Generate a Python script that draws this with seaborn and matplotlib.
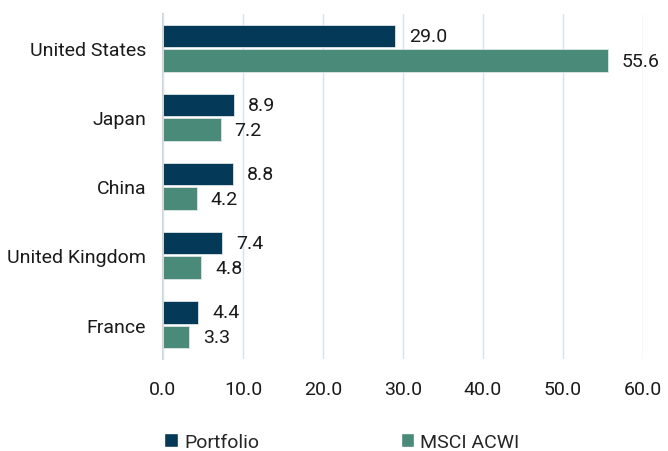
import matplotlib
matplotlib.use("Agg")
import matplotlib.pyplot as plt
import seaborn as sns
import pandas as pd
from matplotlib.patches import Patch

countries = ["United States", "Japan", "China", "United Kingdom", "France"]
portfolio = [29.0, 8.9, 8.8, 7.4, 4.4]
msci_acwi = [55.6, 7.2, 4.2, 4.8, 3.3]
series_names = ["Portfolio", "MSCI ACWI"]
xticks = [0, 10, 20, 30, 40, 50, 60]

colors = ["#053958", "#4a8a78"]

df = pd.DataFrame({
    "Country": countries * 2,
    "Value": portfolio + msci_acwi,
    "Series": [series_names[0]] * len(countries) + [series_names[1]] * len(countries),
})

sns.set_style("white")
plt.rcParams["font.family"] = ["Roboto", "DejaVu Sans"]

fig = plt.figure(figsize=(6.68, 4.52), dpi=100)
ax = fig.add_axes([0.244, 0.2035, 0.7186, 0.7635])

sns.barplot(data=df, y="Country", x="Value", hue="Series", orient="h",
            palette=colors, width=0.72, gap=0.08, ax=ax, legend=False,
            edgecolor="#dfe6e6", linewidth=0.6, saturation=1)

for c in ax.containers:
    ax.bar_label(c, labels=[f"{v:.1f}" for v in c.datavalues], padding=10,
                 fontsize=14, color="#1a1a1a")

ax.set_xlim(0, 60)
ax.set_ylim(4.5, -0.5)
ax.set_xticks(xticks)
ax.set_xticklabels([f"{t:.1f}" for t in xticks], fontsize=14, color="#1a1a1a")
ax.tick_params(axis="y", labelsize=14, colors="#1a1a1a", length=0, pad=12)
ax.tick_params(axis="x", length=0, pad=15)
ax.set_xlabel("")
ax.set_ylabel("")
ax.xaxis.grid(True, color="#d0e5ef", linewidth=1)
ax.set_axisbelow(True)
for s in ["top", "right", "bottom"]:
    ax.spines[s].set_visible(False)
ax.spines["left"].set_color("#d4d4d4")
ax.spines["left"].set_linewidth(1.5)
ax.spines["left"].set_zorder(0.5)

handles = [Patch(facecolor=colors[0]), Patch(facecolor=colors[1])]
fig.legend(handles, series_names, loc="center left", bbox_to_anchor=(0.22, 0.02),
           ncol=2, frameon=False, fontsize=14, handlelength=0.7, handleheight=0.7,
           handletextpad=0.3, columnspacing=7.3)

fig.savefig("out.png", dpi=100)
